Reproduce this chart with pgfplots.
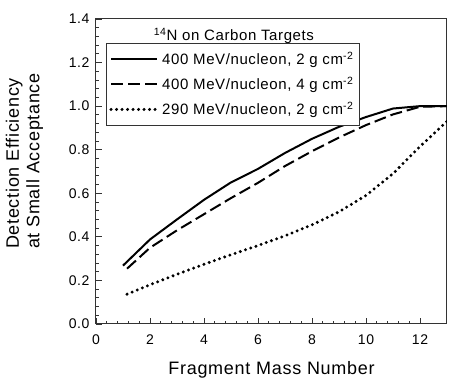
\documentclass[border=0pt]{standalone}
\usepackage{fontspec}
\setmainfont{Liberation Sans}[LetterSpace=4]
\usepackage{pgfplots}
\pgfplotsset{compat=1.18}

\begin{document}
\begin{tikzpicture}
\begin{axis}[
    scale only axis,
    width=351pt, height=305pt,
    xmin=0, xmax=13, ymin=0, ymax=1.4,
    xtick={0,2,...,12}, ytick={0,0.2,...,1.4},
    minor x tick num=4, minor y tick num=4,
    xtick pos=bottom, ytick pos=left,
    tick align=inside,
    major tick length=6pt, minor tick length=3pt,
    axis line style={line width=1pt, black!80},
    every tick/.style={line width=0.8pt, black!80},
    /pgf/number format/assume math mode=true,
    yticklabel style={/pgf/number format/fixed, /pgf/number format/fixed zerofill, /pgf/number format/precision=1, font=\fontsize{14}{16}\selectfont, xshift=-3pt},
    xticklabel style={font=\fontsize{14}{16}\selectfont, anchor=base, yshift=-21pt},
    xlabel={Fragment Mass Number},
    xlabel style={font=\fontsize{18}{20}\selectfont, at={(axis description cs:0.5,-0.167)}, anchor=base, inner sep=0pt},
    ylabel={Detection Efficiency\\at Small Acceptance},
    ylabel style={font=\fontsize{18}{20.5}\selectfont, at={(axis description cs:-0.204,0.534)}, anchor=center, align=left, inner sep=0pt},
    legend cell align=left,
    legend image code/.code={\draw[#1] (0pt,0pt) -- (46pt,0pt);},
    legend style={at={(rel axis cs:0.0285,0.920)}, anchor=north west,
        font=\fontsize{15}{17}\selectfont, draw=black!80, line width=0.8pt,
        inner xsep=3pt, inner ysep=5.5pt, row sep=5pt,
        nodes={inner xsep=3.5pt, inner ysep=3pt}},
]
\addplot[black, line width=2pt] coordinates {
    (1,0.268) (2,0.388) (3,0.480) (4,0.570) (5,0.650) (6,0.712) (7,0.785)
    (8,0.850) (9,0.905) (10,0.950) (11,0.989) (12,1.000) (13,1.000)
};
\addlegendentry{400 MeV/nucleon, 2 g cm\textsuperscript{-2}}
\addplot[black, line width=2pt, dash pattern=on 12pt off 5pt] coordinates {
    (1.15,0.254) (2,0.350) (3,0.430) (4,0.504) (5,0.578) (6,0.648) (7,0.725)
    (8,0.793) (9,0.856) (10,0.913) (11,0.962) (12,0.997) (13,1.000)
};
\addlegendentry{400 MeV/nucleon, 4 g cm\textsuperscript{-2}}
\addplot[black, line width=3.3pt, line cap=round, dash pattern=on 0pt off 5.5pt] coordinates {
    (1.15,0.137) (2,0.180) (3,0.228) (4,0.274) (5,0.318) (6,0.360) (7,0.405)
    (8,0.455) (9,0.515) (10,0.590) (11,0.690) (12,0.815) (13,0.930)
};
\addlegendentry{290 MeV/nucleon, 2 g cm\textsuperscript{-2}}
\node[font=\fontsize{15}{17}\selectfont] at (rel axis cs:0.393,0.945) {\textsuperscript{14}N on Carbon Targets};
\end{axis}
\pgfresetboundingbox
\path (-96pt,-58pt) rectangle (371pt,324pt);
\end{tikzpicture}
\end{document}
